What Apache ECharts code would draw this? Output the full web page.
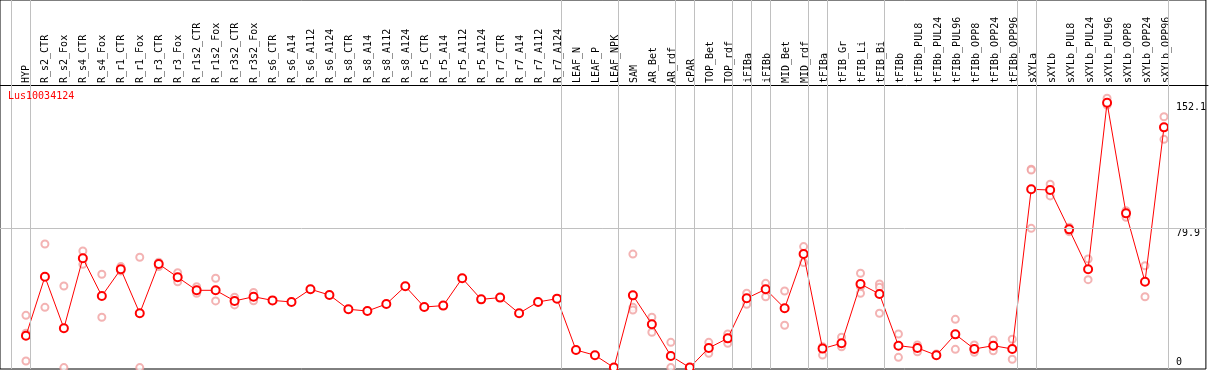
<!DOCTYPE html>
<html>
<head>
<meta charset="utf-8">
<script src="https://cdn.jsdelivr.net/npm/echarts@6/dist/echarts.min.js"></script>
<style>
  html, body { margin: 0; padding: 0; background: #fff; }
  #chart { width: 1209px; height: 370px; }
</style>
</head>
<body>
<div id="chart"></div>
<script>
var categories = ['HYP', 'R_s2_CTR', 'R_s2_Fox', 'R_s4_CTR', 'R_s4_Fox', 'R_r1_CTR', 'R_r1_Fox',
    'R_r3_CTR', 'R_r3_Fox', 'R_r1s2_CTR', 'R_r1s2_Fox', 'R_r3s2_CTR', 'R_r3s2_Fox',
    'R_s6_CTR', 'R_s6_A14', 'R_s6_A112', 'R_s6_A124', 'R_s8_CTR', 'R_s8_A14', 'R_s8_A112', 'R_s8_A124',
    'R_r5_CTR', 'R_r5_A14', 'R_r5_A112', 'R_r5_A124', 'R_r7_CTR', 'R_r7_A14', 'R_r7_A112', 'R_r7_A124',
    'LEAF_N', 'LEAF_P', 'LEAF_NPK', 'SAM', 'AR_Bet', 'AR_rdf', 'cPAR', 'TOP_Bet', 'TOP_rdf',
    'iFIBa', 'iFIBb', 'MID_Bet', 'MID_rdf', 'tFIBa', 'tFIB_Gr', 'tFIB_Li', 'tFIB_Bi', 'tFIBb',
    'tFIBb_PUL8', 'tFIBb_PUL24', 'tFIBb_PUL96', 'tFIBb_OPP8', 'tFIBb_OPP24', 'tFIBb_OPP96',
    'sXYLa', 'sXYLb', 'sXYLb_PUL8', 'sXYLb_PUL24', 'sXYLb_PUL96', 'sXYLb_OPP8', 'sXYLb_OPP24', 'sXYLb_OPP96'];

var means = [
    18.3, 52.2, 22.6, 62.8, 41.1, 56.5, 31.2, 59.5, 51.9, 44.4,
    44.4, 38.3, 40.7, 38.6, 37.7, 45.0, 41.7, 33.5, 32.5, 36.5,
    46.7, 34.8, 35.6, 51.3, 39.2, 40.2, 31.2, 37.7, 39.6, 10.1,
    7.1, 0, 41.5, 24.9, 6.7, 0, 11.3, 16.8, 39.8, 45.0,
    34.1, 65.2, 10.9, 14.0, 48.0, 42.3, 12.6, 11.3, 7.1, 19.1,
    10.7, 12.6, 10.7, 102.4, 102.0, 79.4, 56.5, 152.1, 88.6, 49.3,
    138.0
];

var replicates = [
    [30.0, 19.7, 3.8], [71.0, 34.6], [46.9, 0], [67.0, 59.3], [53.6, 28.9],
    [58.0, 55.5], [63.4, 0], [60.5, 58.0], [54.5, 49.3], [46.5, 42.7],
    [51.3, 38.3], [40.4, 36.0], [43.2, 38.4], [], [],
    [], [], [], [], [],
    [], [], [], [], [],
    [], [], [], [], [],
    [], [], [65.2, 34.6, 33.1], [28.9, 20.3], [14.5, 0],
    [], [14.5, 8.2], [19.3, 14.0], [42.7, 36.4], [48.4, 40.7],
    [44.0, 24.3], [69.5, 60.3], [12.0, 7.2], [17.4, 12.0], [54.2, 46.5, 42.7],
    [48.0, 46.1, 31.2], [19.3, 5.9], [13.0, 9.1], [7.8], [27.7, 10.5],
    [13.0, 8.8], [15.9, 9.7], [16.3, 4.8], [113.9, 113.5, 80.0], [105.3, 98.6],
    [80.6, 78.1], [62.4, 50.5], [154.7, 150.8], [90.1, 86.3], [58.5, 40.7],
    [144.1, 131.1]
];

// group separators sit just after these category indices
var groupEnds = [-1, 0, 28, 31, 34, 35, 37, 38, 39, 41, 42, 45, 52, 53, 60];
var yTicks = [0, 79.9, 152.1];
var geneName = 'Lus10034124';

var mono = '"DejaVu Sans Mono", "Liberation Mono", monospace';

var meanData = means.map(function (v, i) { return [i, v]; });
var repData = [];
replicates.forEach(function (reps, i) {
    reps.forEach(function (v) { repData.push([i, v]); });
});
var idx = categories.map(function (c, i) { return i; });

// x: first category at 26px, 19px per category; y: 0 at 367.6px, 1.741px per unit
var xMin = -26 / 19, xMax = xMin + 1208 / 19;
var yMax = 367.6 / 1.741, yMin = -(369 - 367.6) / 1.741;

var labelStyle = { fontFamily: mono, fontSize: 10, color: '#000' };

var chart = echarts.init(document.getElementById('chart'));
chart.setOption({
    animation: false,
    title: {
        text: geneName,
        left: 8,
        top: 91,
        padding: 0,
        textStyle: { color: '#ff0000', fontFamily: mono, fontSize: 10, fontWeight: 'normal' }
    },
    grid: [
        { left: 0, right: 1, top: 0, bottom: 1, show: true, borderColor: '#000', borderWidth: 1 },
        { left: 0, right: 1, top: 85, bottom: 1, show: false }
    ],
    xAxis: [{
        gridIndex: 0,
        type: 'value',
        min: xMin,
        max: xMax,
        show: false
    }, {
        gridIndex: 1,
        type: 'value',
        min: xMin,
        max: xMax,
        position: 'top',
        axisLine: { show: true, onZero: false, lineStyle: { color: '#000', width: 1 } },
        axisTick: { show: false },
        splitLine: { show: false },
        axisLabel: Object.assign({
            customValues: idx,
            rotate: -90,
            margin: 2,
            formatter: function (v) { return categories[Math.round(v)]; }
        }, labelStyle)
    }],
    yAxis: [{
        gridIndex: 0,
        type: 'value',
        min: yMin,
        max: yMax,
        position: 'right',
        axisLine: { show: false },
        axisTick: { show: false },
        splitLine: { show: false },
        axisLabel: Object.assign({
            customValues: yTicks.slice(1),
            inside: true,
            margin: 30,
            align: 'left',
            verticalAlign: 'top'
        }, labelStyle)
    }, {
        gridIndex: 0,
        type: 'value',
        min: yMin,
        max: yMax,
        position: 'right',
        axisLine: { show: false },
        axisTick: { show: false },
        splitLine: { show: false },
        axisLabel: Object.assign({
            customValues: yTicks.slice(0, 1),
            inside: true,
            margin: 30,
            align: 'left',
            verticalAlign: 'bottom'
        }, labelStyle)
    }, {
        gridIndex: 1,
        type: 'value',
        min: 0,
        max: 1,
        show: false
    }],
    series: [
        {
            name: 'replicates',
            type: 'scatter',
            xAxisIndex: 0,
            yAxisIndex: 0,
            z: 2,
            data: repData,
            symbol: 'emptyCircle',
            symbolSize: 7,
            itemStyle: { color: '#f0a0a0', borderWidth: 1 },
            markLine: {
                silent: true,
                symbol: 'none',
                label: { show: false },
                lineStyle: { color: '#c0c0c0', type: 'solid', width: 1 },
                data: groupEnds.map(function (k) { return { xAxis: k + 0.24 }; })
                    .concat([{ yAxis: yTicks[1] }])
            }
        },
        {
            name: 'mean',
            type: 'line',
            xAxisIndex: 0,
            yAxisIndex: 0,
            z: 3,
            data: meanData,
            symbol: 'emptyCircle',
            symbolSize: 8,
            itemStyle: { color: '#ff0000', borderWidth: 1.2 },
            lineStyle: { color: '#ff0000', width: 1 }
        }
    ]
});
</script>
</body>
</html>
